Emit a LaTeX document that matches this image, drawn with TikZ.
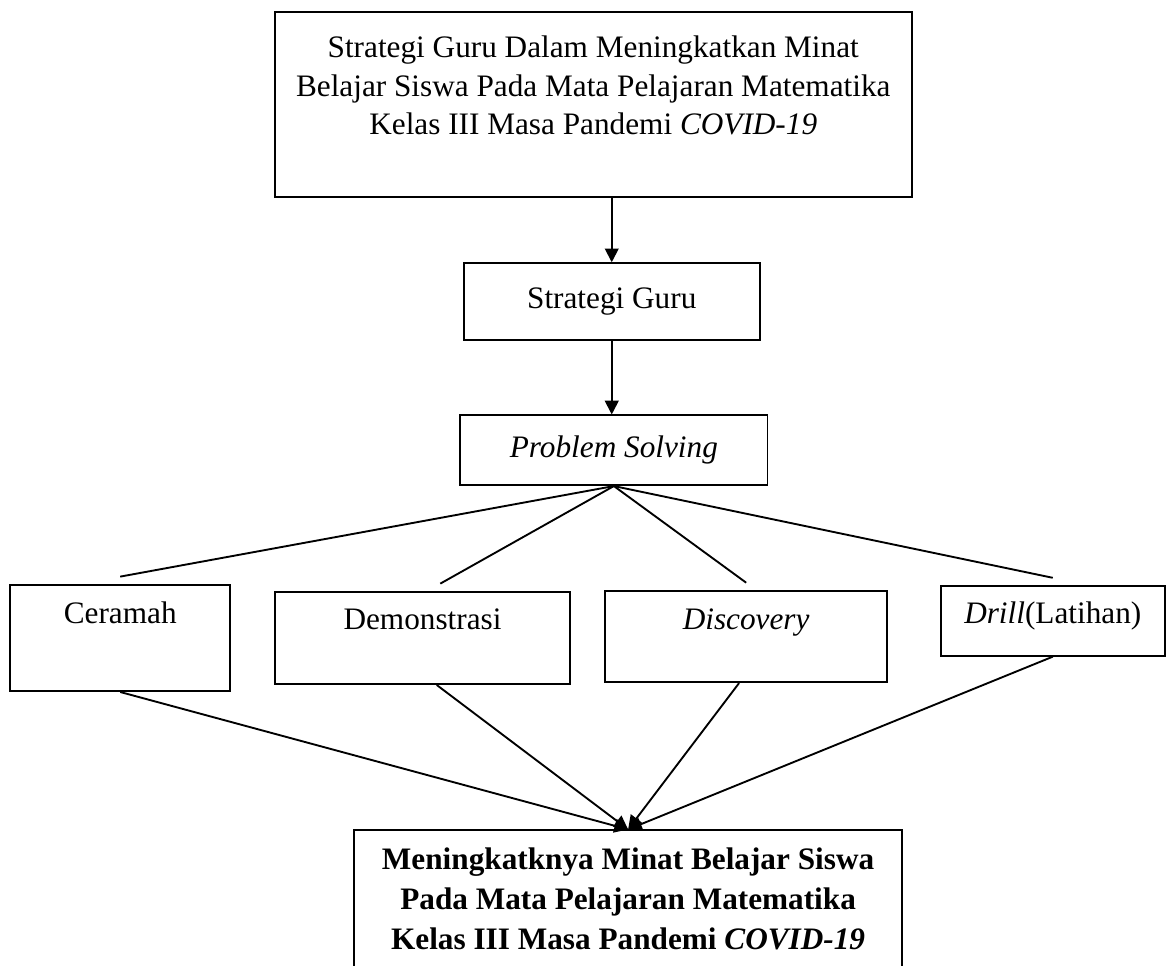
\documentclass[tikz,border=0pt]{standalone}
\usepackage{fontspec}
\setmainfont{Liberation Serif}
\usepackage{tikz}
\usetikzlibrary{arrows.meta,positioning}

\begin{document}
\begin{tikzpicture}[
        font=\fontsize{12.5}{15.5}\selectfont,
        >={Triangle[length=5.5pt, width=5.5pt]},
        kotak/.style={draw=black, line width=0.75pt, align=center, inner xsep=4pt},
        metode/.style={kotak, inner ysep=0pt},
        hasil/.style={kotak, font=\bfseries\fontsize{12.5}{16}\selectfont, inner ysep=7pt},
        garis/.style={draw=black, line width=0.75pt},
        panah/.style={->, line width=0.75pt, draw=black}
    ]

    \useasboundingbox (0,0) rectangle (16.42,-13.57);
    \clip (0,0) rectangle (16.42,-13.57);

    % ==========================================
    % Judul dan strategi
    % ==========================================
    \node[kotak, minimum width=8.96cm, minimum height=2.60cm] (judul) at (8.34, -1.47)
        {Strategi Guru Dalam Meningkatkan Minat\\Belajar Siswa Pada Mata Pelajaran Matematika\\Kelas III Masa Pandemi \textit{COVID-19}\\ \mbox{}};
    \node[kotak, minimum width=4.16cm, minimum height=1.08cm] (strategi) at (8.60, -4.24) {Strategi Guru};
    \node[kotak, minimum width=4.32cm, minimum height=0.98cm] (problem) at (8.63, -6.33) {\textit{Problem Solving}};

    \draw[panah] (strategi.north |- judul.south) -- (strategi.north);
    \draw[panah] (strategi.south) -- (strategi.south |- problem.north);

    % ==========================================
    % Metode
    % ==========================================
    \node[metode, minimum width=3.09cm, text height=15.2pt, text depth=27.2pt] (ceramah) at (1.69, -8.97) {Ceramah};
    \node[metode, minimum width=4.15cm, text height=14.8pt, text depth=22pt] (demonstrasi) at (5.94, -8.97) {Demonstrasi};
    \node[metode, minimum width=3.96cm, text height=15.2pt, text depth=21.2pt] (discovery) at (10.49, -8.95) {\textit{Discovery}};
    \node[metode, minimum width=3.15cm, text height=14.8pt, text depth=13pt] (drill) at (14.80, -8.73) {\textit{Drill}(Latihan)};

    \draw[garis] (problem.south) -- ([yshift=3pt]ceramah.north);
    \draw[garis] (problem.south) -- ([xshift=0.25cm, yshift=3pt]demonstrasi.north);
    \draw[garis] (problem.south) -- ([yshift=3pt]discovery.north);
    \draw[garis] (problem.south) -- ([yshift=3pt]drill.north);

    % ==========================================
    % Hasil
    % ==========================================
    \node[hasil, minimum width=7.70cm, anchor=north] (hasil) at (8.83, -11.66)
        {Meningkatknya Minat Belajar Siswa\\Pada Mata Pelajaran Matematika\\Kelas III Masa Pandemi \textit{COVID-19}\\ \mbox{}};

    \draw[panah] (ceramah.south) -- (hasil.north);
    \draw[panah] ([xshift=0.2cm]demonstrasi.south) -- (hasil.north);
    \draw[panah] ([xshift=-0.1cm]discovery.south) -- (hasil.north);
    \draw[panah] (drill.south) -- (hasil.north);

\end{tikzpicture}
\end{document}
